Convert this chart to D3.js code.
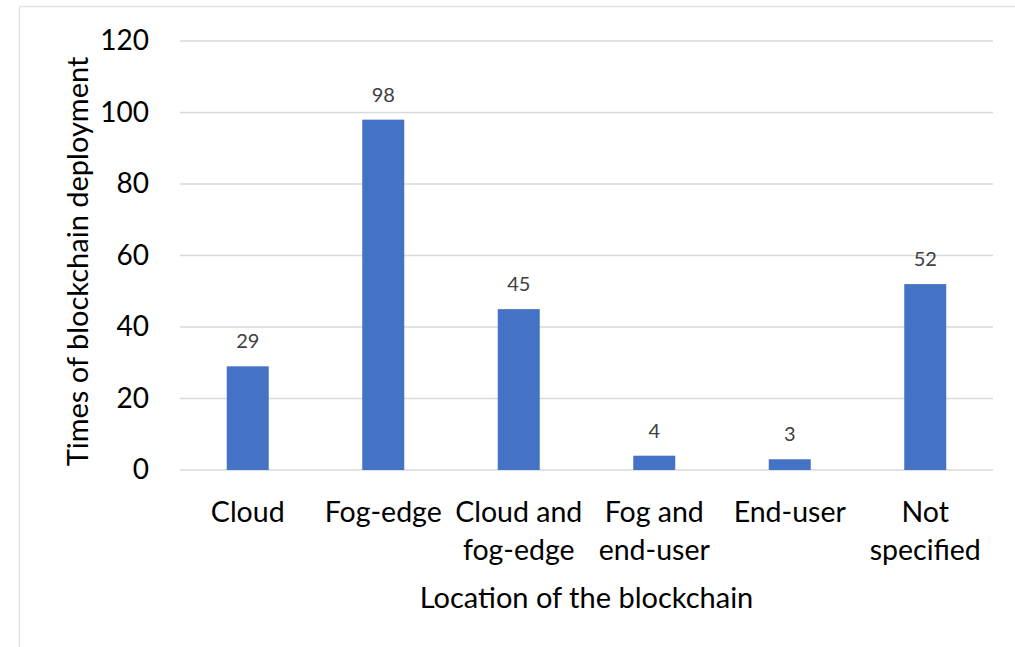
<!DOCTYPE html>
<html><head><meta charset="utf-8">
<script src="https://cdn.jsdelivr.net/npm/d3@7"></script>
<style>body{margin:0;background:#fff}svg{display:block}text{font-family:Lato,"Open Sans",sans-serif}</style>
</head><body><svg id="c" width="1015" height="647"></svg>
<script>
const categories = [["Cloud"],["Fog-edge"],["Cloud and","fog-edge"],["Fog and","end-user"],["End-user"],["Not","specified"]];
const values = [29,98,45,4,3,52];
const yTicks = [0,20,40,60,80,100,120];
const xTitle = "Location of the blockchain";
const yTitle = "Times of blockchain deployment";

const svg = d3.select("#c");
svg.append("rect").attr("x",19.5).attr("y",6.5).attr("width",1010).attr("height",650)
  .attr("fill","#fff").attr("stroke","#e3e3e3").attr("stroke-width",1.5);

const pL=180,pR=993,pT=41,pB=470;
const x = d3.scaleBand().domain(d3.range(values.length)).range([pL,pR]).paddingInner(0.69).paddingOuter(0.345);
const y = d3.scaleLinear().domain([0,120]).range([pB,pT]);

const g = svg.append("g");
g.selectAll("line.grid").data(yTicks).join("line").attr("class","grid")
  .attr("x1",pL).attr("x2",pR).attr("y1",d=>y(d)).attr("y2",d=>y(d))
  .attr("stroke","#d9d9d9").attr("stroke-width",1.5);

const yAxis = d3.axisLeft(y).tickValues(yTicks).tickSize(0).tickPadding(0);
const ya = svg.append("g").attr("transform",`translate(149,0)`).call(yAxis);
ya.select(".domain").remove();
ya.selectAll("text").attr("font-size",28).attr("fill","#000").attr("font-family","Lato");

g.selectAll("rect.bar").data(values).join("rect").attr("class","bar")
  .attr("x",(d,i)=>x(i)).attr("width",x.bandwidth())
  .attr("y",d=>y(d)).attr("height",d=>pB-y(d)).attr("fill","#4472C4");

g.selectAll("text.lbl").data(values).join("text").attr("class","lbl")
  .attr("x",(d,i)=>x(i)+x.bandwidth()/2).attr("y",d=>y(d)-18)
  .attr("text-anchor","middle").attr("font-size",20).attr("fill","#404040").text(d=>d);

const xl = g.selectAll("text.cat").data(categories).join("text").attr("class","cat")
  .attr("x",(d,i)=>x(i)+x.bandwidth()/2).attr("y",522)
  .attr("text-anchor","middle").attr("font-size",28.5).attr("fill","#000");
xl.selectAll("tspan").data(d=>d).join("tspan")
  .attr("x",function(){return this.parentNode.getAttribute("x");})
  .attr("dy",(d,i)=>i?38:0).text(d=>d);

svg.append("text").attr("x",(pL+pR)/2).attr("y",608).attr("text-anchor","middle")
  .attr("font-size",29).attr("fill","#000").text(xTitle);
svg.append("text").attr("transform",`translate(88,${(pT+pB)/2+6}) rotate(-90)`).attr("text-anchor","middle")
  .attr("font-size",29).attr("fill","#000").text(yTitle);
</script></body></html>
